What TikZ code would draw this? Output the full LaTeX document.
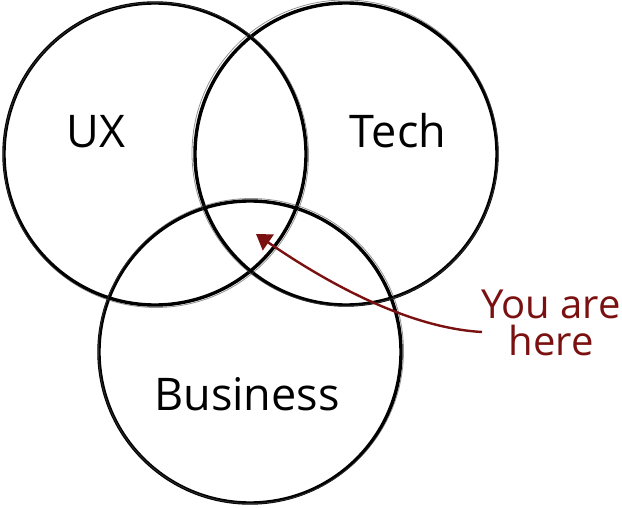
\documentclass[tikz,border=0pt]{standalone}
\usepackage{fontspec}
\setmainfont{Open Sans}
\usetikzlibrary{arrows.meta}
\definecolor{herered}{HTML}{7A1010}
\tikzset{
  venn/.style={draw=black, line width=3.4pt},
  sketch/.style={draw=black!70, line width=0.8pt, opacity=0.6},
  lbl/.style={font=\fontsize{45}{50}\selectfont, anchor=base, inner sep=0pt},
  herelbl/.style={font=\fontsize{40}{37}\selectfont, text=herered, align=center, inner sep=0pt},
  pointer/.style={draw=herered, line width=2.4pt, -{Triangle[length=15pt,width=19pt]}}
}
\begin{document}
\begin{tikzpicture}[x=1pt,y=-1pt]
\useasboundingbox (0,0) rectangle (622,508);
% circles
\node[venn, circle, minimum size=302pt, inner sep=0pt] (ux) at (155,154) {};
\node[venn, circle, minimum size=302pt, inner sep=0pt] (tech) at (346,154) {};
\node[venn, circle, minimum size=302pt, inner sep=0pt] (biz) at (250,352) {};
\draw[sketch] (156,155) circle (152.5);
\draw[sketch] (345,153) circle (153);
\draw[sketch] (251,351) circle (152.5);
% labels
\node[lbl] (uxl) at (96,148) {UX};
\node[lbl] (techl) at (398,148) {Tech};
\node[lbl] (bizl) at (247,410) {Business};
\node[herelbl] (here) at (551,323) {You are\\here};
% arrow
\coordinate (tail) at (482,332);
\coordinate (head) at (256,234);
\draw[pointer] (tail) .. controls (410,328) and (330,285) .. (head);
\end{tikzpicture}
\end{document}
